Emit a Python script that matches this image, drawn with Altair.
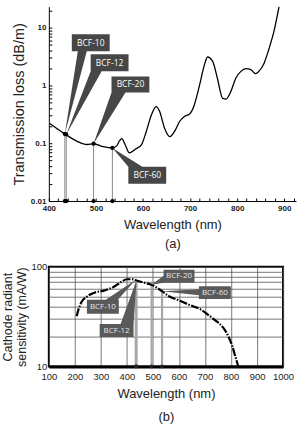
import altair as alt
import pandas as pd

# ---------- data ----------
# (a) transmission loss of the fibre
loss_nm = [402, 434, 460, 481, 495, 516, 535, 544, 550, 555, 562, 571, 583, 597, 607,
           618, 628, 635, 646, 657, 667, 678, 688, 699, 709, 720, 730, 737, 748, 758,
           769, 776, 787, 797, 808, 818, 829, 839, 846, 857, 868, 878, 889]
loss_val = [0.22, 0.145, 0.108, 0.095, 0.098, 0.087, 0.083, 0.09, 0.11, 0.12, 0.095, 0.068,
            0.078, 0.095, 0.16, 0.31, 0.43, 0.36, 0.18, 0.13, 0.16, 0.24, 0.29, 0.32, 0.46,
            1.0, 2.2, 3.1, 2.6, 1.33, 0.6, 0.58, 0.8, 1.33, 1.75, 1.95, 1.87, 1.6, 1.75,
            2.4, 4.4, 8.5, 23]

# (b) cathode radiant sensitivity
sens_nm = [207, 215, 225, 245, 275, 315, 350, 380, 400, 420, 437, 460, 495, 535, 560,
           600, 640, 686, 712, 740, 770, 790, 805, 815, 828]
sens_val = [32, 38, 44, 50, 55, 58, 63, 71, 75, 75, 73, 70, 66, 57, 51,
            46, 41.5, 37, 33, 29, 24.5, 20, 16, 13, 10]

# scintillating fibres (emission peaks)
bcf_names = ["BCF-10", "BCF-12", "BCF-20", "BCF-60"]
bcf_nm = [434, 437, 495, 535]
bcf_loss = [0.145, 0.142, 0.098, 0.083]
bcf_sens = [74, 73.5, 66, 57]

# tick values
xa_ticks = list(range(400, 921, 20))
ya_ticks = [m * 10.0 ** e for e in (-2, -1, 0) for m in range(1, 10)] + [10, 20]
xb_ticks = list(range(100, 1001, 100))
yb_ticks = list(range(10, 101, 10))

curve_a = pd.DataFrame({"nm": loss_nm, "loss": loss_val})
curve_b = pd.DataFrame({"nm": sens_nm, "sens": sens_val})
bcf = pd.DataFrame({"name": bcf_names, "nm": bcf_nm, "loss": bcf_loss, "sens": bcf_sens})

# ---------- callout shapes (pixel offsets from the marked point) ----------
callout_a = {
    "BCF-10": ("M0,0 L13,-83 L7,-83 L7,-100 L45,-100 L45,-83 L22,-83 Z", 26, -91.5),
    "BCF-12": ("M0,0 L24.5,-63.5 L24.5,-80.5 L62.5,-80.5 L62.5,-63.5 L35.5,-63.5 Z", 43.5, -72),
    "BCF-20": ("M0,0 L18,-51.5 L18,-67.5 L56,-67.5 L56,-51.5 L32,-51.5 Z", 37, -59.5),
    "BCF-60": ("M0,0 L30,19 L54,19 L54,36 L16,36 L16,19 Z", 35, 27.5),
}
callout_b = {
    "BCF-10": ("M0,0 L-18,20 L-17,20 L-17,34 L-49,34 L-49,20 L-30,20 Z", -33, 27),
    "BCF-12": ("M0,0 L-3,44 L-3,57 L-37,57 L-37,44 L-16,44 Z", -20, 50.7),
    "BCF-20": ("M0,0 L12,-9 L12,-15 L43,-15 L43,-2 L12,-2 Z", 27.5, -8.5),
    "BCF-60": ("M0,0 L37,-2 L37,-5 L69,-5 L69,8 L37,8 L37,4 Z", 53, 1.5),
}

FONT = "Liberation Sans"

# ---------- chart (a) ----------
is_decade = "abs(log(datum.value)/LN10 - round(log(datum.value)/LN10)) < 0.001"
xa_scale = alt.Scale(domain=[400, 925], nice=False, zero=False)
ya_scale = alt.Scale(type="log", domain=[0.01, 23], nice=False)

axis_xa = alt.Axis(
    values=xa_ticks, orient="bottom",
    labelExpr="datum.value % 100 == 0 ? toString(datum.value) : ''",
    labelFlush=False, labelOverlap=False,
    labelFont=FONT, labelFontWeight="bold", labelFontSize=8, labelColor="#222",
    labelPadding=3, ticks=False,
    domainColor="black", grid=False,
    title=["Wavelength (nm)", "(a)"], titleFont=FONT, titleFontSize=13,
    titleFontWeight="normal", titleColor="#222", titleLineHeight=19, titlePadding=7,
)
axis_ya = alt.Axis(
    values=ya_ticks, orient="left",
    labelExpr=is_decade + " ? (datum.value < 0.05 ? '0.01' : datum.value < 0.5 ? '0.1' : datum.value < 5 ? '1' : '10') : ''",
    labelOverlap=False,
    labelFont=FONT, labelFontWeight="bold", labelFontSize=8, labelColor="#222",
    labelPadding=3, ticks=False,
    domainColor="black", grid=False,
    title="Transmission loss (dB/m)", titleFont=FONT, titleFontSize=14.5,
    titleFontWeight="normal", titleColor="#222", titlePadding=4,
)
# inward-pointing tick marks (separate tick-only axes shifted into the plot)
ticks_xa = alt.Axis(values=xa_ticks, orient="bottom", offset=-3, tickSize=3,
                    tickColor="black", labels=False, domain=False, grid=False, title="")
ticks_ya = alt.Axis(values=ya_ticks, orient="left", offset=-3, tickSize=3,
                    tickColor="black", labels=False, domain=False, grid=False, title="")

line_a = alt.Chart(curve_a).mark_line(
    color="black", strokeWidth=1.3, interpolate="monotone", clip=True
).encode(
    x=alt.X("nm:Q", scale=xa_scale, axis=axis_xa),
    y=alt.Y("loss:Q", scale=ya_scale, axis=axis_ya),
)
enc_a = dict(x=alt.X("nm:Q", axis=axis_xa), y=alt.Y("loss:Q", axis=axis_ya))
rules_a = alt.Chart(bcf).mark_rule(color="#8a8a8a", strokeWidth=1).encode(
    y2=alt.datum(0.01), **enc_a
)
dots_a = alt.Chart(bcf).mark_circle(color="black", size=18, opacity=1).encode(**enc_a)
base_dots_a = alt.Chart(bcf).mark_circle(color="black", size=18, opacity=1).encode(
    x=alt.X("nm:Q", axis=axis_xa), y=alt.datum(0.01)
)

layers_a = [rules_a, line_a, dots_a, base_dots_a]
for name, (path, tx, ty) in callout_a.items():
    sub = alt.Chart(bcf).transform_filter(alt.datum.name == name)
    layers_a.append(sub.mark_point(shape=path, size=4, filled=True, color="#474747",
                                   opacity=1, strokeWidth=0).encode(**enc_a))
    layers_a.append(sub.mark_text(dx=tx, dy=ty, color="white", font="Open Sans",
                                  fontSize=8.5, align="center", baseline="middle")
                    .encode(text="name:N", **enc_a))

tick_layer_a = alt.Chart(curve_a).mark_line(opacity=0).encode(
    x=alt.X("nm:Q", axis=ticks_xa), y=alt.Y("loss:Q", axis=ticks_ya)
)

chart_a = alt.layer(alt.layer(*layers_a), tick_layer_a).resolve_axis(
    x="independent", y="independent"
).properties(
    width=248, height=195, view=alt.ViewBackground(stroke="transparent")
)

# ---------- chart (b) ----------
xb_scale = alt.Scale(domain=[100, 1000], nice=False, zero=False)
yb_scale = alt.Scale(type="log", domain=[10, 100], nice=False)

axis_xb = alt.Axis(
    values=xb_ticks, format="d", grid=True, gridColor="#555", gridWidth=0.8,
    tickSize=0, labelPadding=5, labelFlush=False, labelOverlap=False,
    labelFont=FONT, labelFontSize=9.5, labelColor="#222",
    domainColor="black", domainWidth=3,
    title=["Wavelength (nm)", "(b)"], titleFont=FONT, titleFontSize=13,
    titleFontWeight="normal", titleColor="#222", titleLineHeight=23, titlePadding=7,
)
axis_yb = alt.Axis(
    values=yb_ticks, grid=True, gridColor="#555", gridWidth=0.8,
    labelExpr="datum.value == 10 || datum.value == 100 ? toString(datum.value) : ''",
    labelOverlap=False, tickSize=0, labelPadding=2,
    labelFont=FONT, labelFontSize=9.5, labelColor="#222", domain=False,
    title=["Cathode radiant", "sensitivity (mA/W)"], titleFont=FONT, titleFontSize=12.5,
    titleFontWeight="normal", titleColor="#222", titleLineHeight=14, titlePadding=3,
)

line_b = alt.Chart(curve_b).mark_line(
    color="black", strokeWidth=2.2, strokeDash=[8, 1.5, 1.5, 1.5], interpolate="monotone"
).encode(
    x=alt.X("nm:Q", scale=xb_scale, axis=axis_xb),
    y=alt.Y("sens:Q", scale=yb_scale, axis=axis_yb),
)
enc_b = dict(x=alt.X("nm:Q", axis=axis_xb), y=alt.Y("sens:Q", axis=axis_yb))
rules_b = alt.Chart(bcf).mark_rule(color="#a8a8a8", strokeWidth=2.2).encode(
    y2=alt.datum(10), **enc_b
)
base_dots_b = alt.Chart(bcf).mark_circle(color="#222", size=14, opacity=1).encode(
    x=alt.X("nm:Q", axis=axis_xb), y=alt.datum(10)
)

layers_b = [rules_b, line_b, base_dots_b]
for name, (path, tx, ty) in callout_b.items():
    sub = alt.Chart(bcf).transform_filter(alt.datum.name == name)
    layers_b.append(sub.mark_point(shape=path, size=4, filled=True, color="#5a5a5a",
                                   opacity=1, strokeWidth=0).encode(**enc_b))
    layers_b.append(sub.mark_text(dx=tx, dy=ty, color="#e8e8e8", font="Open Sans",
                                  fontSize=8, align="center", baseline="middle")
                    .encode(text="name:N", **enc_b))

chart_b = alt.layer(*layers_b).properties(
    width=235, height=100, view=alt.ViewBackground(stroke="black", strokeWidth=2)
)

chart = alt.vconcat(chart_a, chart_b, spacing=9).properties(
    padding={"left": 0, "top": 5, "right": 0, "bottom": 0}
).configure(background="white").configure_axis(labelOverlap=False, labelSeparation=0)

chart.save("out.html", embed_options={"renderer": "svg", "actions": False})
